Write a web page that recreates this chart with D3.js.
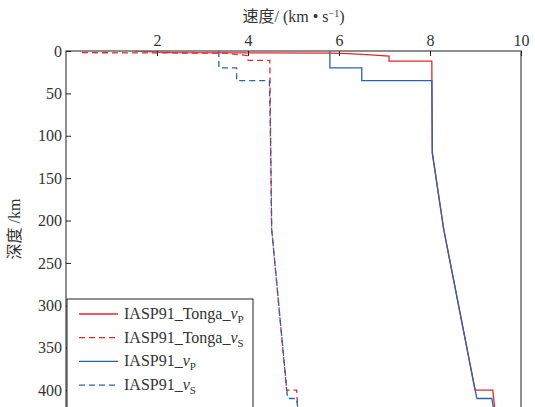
<!DOCTYPE html>
<html>
<head>
<meta charset="utf-8">
<script src="https://cdn.jsdelivr.net/npm/d3@7"></script>
<style>
  body { margin: 0; background: #fff; }
</style>
</head>
<body>
<div id="chart"></div>
<script>
// velocity profiles, depth in km, velocity in km/s
const iaspDepth = [0, 20, 20, 35, 35, 120, 210, 410, 410, 420];
const iaspVp = [5.80, 5.80, 6.50, 6.50, 8.04, 8.05, 8.30, 9.03, 9.36, 9.39];
const iaspVs = [3.36, 3.36, 3.75, 3.75, 4.47, 4.50, 4.52, 4.87, 5.07, 5.09];

const tongaVpDepth = [0, 2, 2.5, 3, 4.5, 6, 12, 12, 120, 210, 400, 400, 420];
const tongaVp = [1.50, 2.30, 5.80, 6.20, 6.70, 7.10, 7.10, 8.04, 8.05, 8.30, 8.99, 9.38, 9.42];

const tongaVsDepth = [2, 2.5, 5.5, 11, 11, 120, 210, 400, 400, 420];
const tongaVs = [0.35, 3.50, 4.00, 4.00, 4.48, 4.50, 4.52, 4.85, 5.07, 5.09];

const xTicks = [2, 4, 6, 8, 10];
const yTicks = [0, 50, 100, 150, 200, 250, 300, 350, 400];

const series = [
    { name: "IASP91_Tonga_", sub: "P", depth: tongaVpDepth, v: tongaVp, color: "#e8252b", dash: null },
    { name: "IASP91_Tonga_", sub: "S", depth: tongaVsDepth, v: tongaVs, color: "#e8252b", dash: "6,4" },
    { name: "IASP91_", sub: "P", depth: iaspDepth, v: iaspVp, color: "#2a62b0", dash: null },
    { name: "IASP91_", sub: "S", depth: iaspDepth, v: iaspVs, color: "#2a62b0", dash: "6,4" }
];

const serif = '"Liberation Serif", "Times New Roman", serif';
const cjk = '"Noto Sans CJK SC", sans-serif';

const margin = { top: 51, right: 14, bottom: 0, left: 66 },
    width = 535 - margin.left - margin.right,
    height = 407 - margin.top - margin.bottom;

const svg = d3.select("#chart")
    .append("svg")
    .attr("width", 535)
    .attr("height", 407)
    .append("g")
    .attr("transform", `translate(${margin.left}, ${margin.top})`);

const x = d3.scaleLinear().domain([0, 10]).range([0, width]);
const y = d3.scaleLinear().domain([0, 420]).range([0, height]);

svg.append("defs").append("clipPath")
    .attr("id", "clip")
    .append("rect")
    .attr("width", width)
    .attr("height", height);

// lines
const line = d3.line()
    .x(d => x(d[0]))
    .y(d => y(d[1]));

const plot = svg.append("g").attr("clip-path", "url(#clip)");
plot.selectAll("path")
    .data(series)
    .join("path")
    .attr("fill", "none")
    .attr("stroke", d => d.color)
    .attr("stroke-width", 1.3)
    .attr("stroke-dasharray", d => d.dash)
    .attr("d", d => line(d.v.map((v, i) => [v, d.depth[i]])));

// box
svg.append("rect")
    .attr("width", width)
    .attr("height", height + 2)
    .attr("fill", "none")
    .attr("stroke", "#6a6a6a")
    .attr("stroke-width", 1.5);

// axes
const xAxis = svg.append("g")
    .call(d3.axisTop(x).tickValues(xTicks).tickSize(-5).tickPadding(5));
const yAxis = svg.append("g")
    .call(d3.axisLeft(y).tickValues(yTicks).tickSize(-5).tickPadding(4));

[xAxis, yAxis].forEach(a => {
    a.attr("font-family", serif);
    a.select(".domain").remove();
    a.selectAll(".tick line").attr("stroke", "#222");
    a.selectAll(".tick text")
        .attr("fill", "#333")
        .style("font-family", serif)
        .style("font-size", "16px");
});

// axis titles
const xt = svg.append("text")
    .attr("x", width / 2)
    .attr("y", -29)
    .attr("text-anchor", "middle")
    .attr("fill", "#333")
    .style("font-family", serif)
    .style("font-size", "16px");
xt.append("tspan").style("font-family", cjk).text("速度");
xt.append("tspan").text("/ (km • s");
xt.append("tspan").attr("dy", -5).style("font-size", "10px").text("−1");
xt.append("tspan").attr("dy", 5).text(")");

const yt = svg.append("text")
    .attr("transform", `translate(${-46}, ${height / 2}) rotate(-90)`)
    .attr("text-anchor", "middle")
    .attr("fill", "#333")
    .style("font-family", serif)
    .style("font-size", "16px");
yt.append("tspan").style("font-family", cjk).text("深度");
yt.append("tspan").text(" /km");

// legend
const legend = svg.append("g").attr("transform", `translate(1, ${248})`);
legend.append("rect")
    .attr("width", 186)
    .attr("height", 130)
    .attr("fill", "#fff")
    .attr("stroke", "#222")
    .attr("stroke-width", 1);

const item = legend.selectAll("g.item")
    .data(series)
    .join("g")
    .attr("class", "item")
    .attr("transform", (d, i) => `translate(0, ${15 + i * 23.7})`);

item.append("line")
    .attr("x1", 12)
    .attr("x2", 51)
    .attr("stroke", d => d.color)
    .attr("stroke-width", 1.3)
    .attr("stroke-dasharray", d => d.dash);

const label = item.append("text")
    .attr("x", 57)
    .attr("y", 5)
    .attr("fill", "#333")
    .style("font-family", serif)
    .style("font-size", "16px");
label.append("tspan").text(d => d.name);
label.append("tspan").style("font-style", "italic").text("v");
label.append("tspan").attr("dy", 4).style("font-size", "11px").text(d => d.sub);
</script>
</body>
</html>
